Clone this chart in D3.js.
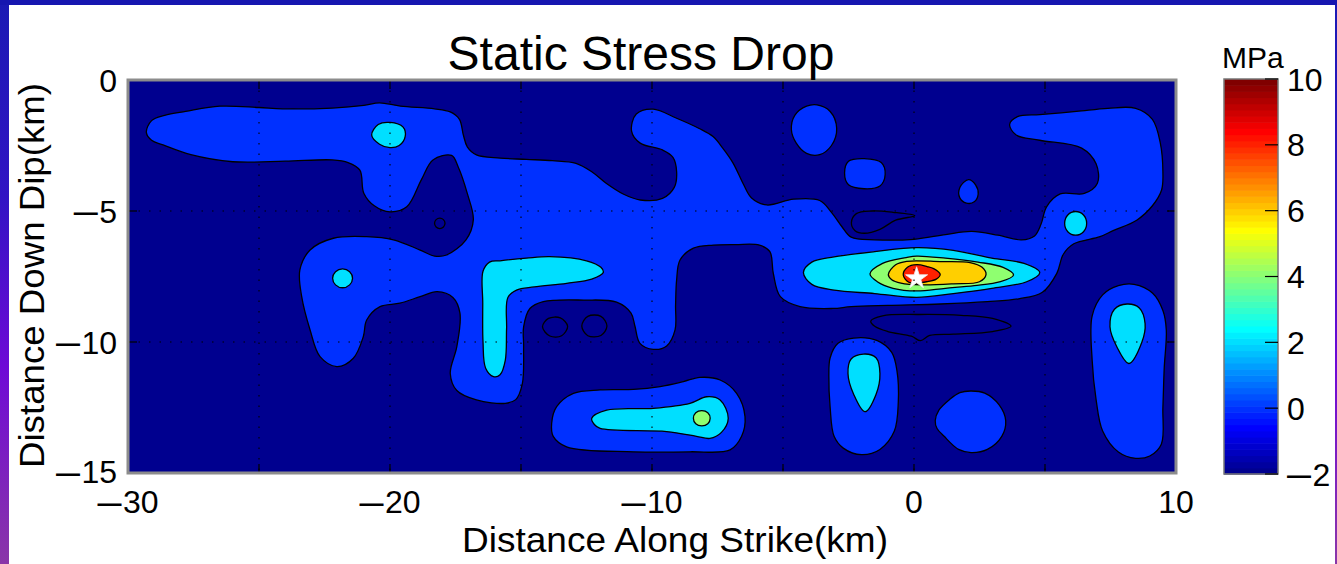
<!DOCTYPE html>
<html><head><meta charset="utf-8">
<script src="https://cdn.jsdelivr.net/npm/d3@7"></script>
<style>html,body{margin:0;padding:0;background:#fff;}svg{display:block;}</style>
</head><body>
<script>
// ---------- DATA (km) ----------
const contourLevels = [-2, 0, 2, 4, 6, 8];
const strikeTicks = [-30, -25, -20, -15, -10, -5, 0, 5, 10];
const strikeTickLabels = ["−30", "", "−20", "", "−10", "", "0", "", "10"];
const dipTicks = [0, -5, -10, -15];
const dipTickLabels = ["0", "−5", "−10", "−15"];
const colorbarTicks = [-2, 0, 2, 4, 6, 8, 10];
const colorbarTickLabels = ["−2", "0", "2", "4", "6", "8", "10"];
const hypocenter = [0.1, -7.57];

// level 0 MPa contours (blue regions)
const level0Rings = [
  [[-29.3,-2.0],[-29.1,-1.55],[-28.6,-1.35],[-27.8,-1.2],[-26.5,-1.0],[-25.0,-1.05],[-24.1,-1.1],[-22.2,-1.07],[-21.0,-0.97],[-20.4,-0.87],[-19.6,-1.0],[-18.3,-1.1],[-17.7,-1.22],[-17.35,-1.5],[-17.2,-2.1],[-17.05,-2.55],[-16.7,-2.86],[-15.8,-2.98],[-14.8,-3.03],[-13.8,-3.08],[-12.9,-3.18],[-12.3,-3.5],[-11.75,-3.94],[-11.1,-4.35],[-10.45,-4.58],[-9.6,-4.52],[-9.15,-4.1],[-9.06,-3.5],[-9.2,-2.95],[-9.6,-2.67],[-10.45,-2.41],[-10.78,-1.95],[-10.6,-1.3],[-9.96,-1.11],[-9.06,-1.46],[-8.2,-1.85],[-7.67,-2.16],[-7.3,-2.6],[-6.9,-3.18],[-6.5,-4.0],[-6.2,-4.5],[-5.62,-4.77],[-4.6,-4.55],[-3.6,-4.6],[-3.15,-5.05],[-2.75,-5.6],[-2.4,-6.0],[-1.5,-6.1],[0,-6.08],[1.2,-5.9],[2.2,-5.78],[3.2,-5.92],[4.1,-6.1],[4.6,-5.95],[4.85,-5.5],[5.06,-4.84],[5.58,-4.35],[6.5,-4.33],[7.0,-3.94],[6.95,-3.2],[6.4,-2.6],[4.8,-2.3],[3.9,-2.1],[3.65,-1.7],[3.95,-1.4],[4.8,-1.32],[6.2,-1.2],[7.4,-1.08],[8.46,-1.08],[9.1,-1.5],[9.4,-2.4],[9.5,-3.5],[9.45,-4.2],[9.1,-4.8],[8.5,-5.35],[7.6,-5.75],[7.1,-5.98],[6.1,-6.25],[5.7,-6.65],[5.45,-7.38],[4.9,-8.1],[4.0,-8.35],[2.8,-8.46],[1.0,-8.55],[-1.0,-8.6],[-2.4,-8.65],[-3.1,-8.72],[-4.35,-8.65],[-5.1,-8.27],[-5.37,-7.38],[-5.5,-6.55],[-5.9,-6.3],[-6.8,-6.28],[-7.66,-6.3],[-8.42,-6.42],[-8.93,-6.87],[-9.06,-7.63],[-9.1,-8.6],[-9.12,-9.54],[-9.44,-10.15],[-9.95,-10.28],[-10.46,-10.05],[-10.65,-9.4],[-10.8,-8.9],[-11.35,-8.48],[-12.6,-8.4],[-14.15,-8.46],[-14.66,-8.72],[-14.9,-9.42],[-14.9,-10.18],[-14.95,-11.6],[-15.2,-12.2],[-15.6,-12.34],[-16.7,-12.21],[-17.45,-11.85],[-17.7,-11.2],[-17.45,-10.18],[-17.33,-8.9],[-17.6,-8.3],[-18.2,-8.08],[-18.85,-8.27],[-19.62,-8.52],[-20.38,-8.65],[-20.89,-9.16],[-21.02,-9.8],[-21.4,-10.62],[-22.03,-10.94],[-22.67,-10.56],[-23.05,-9.54],[-23.37,-8.27],[-23.44,-7.25],[-23.05,-6.49],[-22.16,-6.04],[-20.89,-5.98],[-19.87,-6.1],[-18.85,-6.49],[-18.3,-6.72],[-17.84,-6.68],[-17.1,-6.1],[-16.82,-5.34],[-17.05,-4.33],[-17.4,-3.31],[-17.65,-2.88],[-18.36,-3.05],[-18.8,-3.8],[-19.36,-4.84],[-20.0,-5.03],[-20.6,-4.8],[-21.0,-4.32],[-21.15,-3.44],[-21.6,-3.15],[-22.2,-3.05],[-24.0,-3.1],[-26.0,-3.12],[-27.6,-2.85],[-28.66,-2.48],[-29.1,-2.3]],
  [[-4.68,-1.9],[-4.55,-1.35],[-4.1,-1.0],[-3.7,-0.95],[-3.2,-1.2],[-2.95,-1.85],[-3.15,-2.5],[-3.6,-2.85],[-4.1,-2.8],[-4.5,-2.4]],
  [[-2.65,-3.55],[-2.5,-3.1],[-1.9,-3.0],[-1.25,-3.15],[-1.1,-3.6],[-1.3,-4.05],[-1.9,-4.15],[-2.5,-4.0]],
  [[2.08,-3.8],[2.35,-4.0],[2.45,-4.35],[2.3,-4.65],[2.0,-4.7],[1.75,-4.5],[1.75,-4.1]],
  [[-13.83,-13.1],[-13.64,-12.47],[-13.0,-11.96],[-11.98,-11.83],[-10.71,-11.81],[-9.69,-11.7],[-8.8,-11.51],[-8.17,-11.35],[-7.4,-11.45],[-6.77,-11.96],[-6.45,-12.85],[-6.58,-13.6],[-7.02,-14.12],[-8.55,-14.19],[-10.71,-14.19],[-13.26,-14.0],[-13.77,-13.6]],
  [[-3.2,-10.6],[-2.9,-10.05],[-2.3,-9.85],[-1.4,-9.95],[-0.85,-10.4],[-0.65,-11.1],[-0.6,-12.3],[-0.75,-13.4],[-1.3,-14.1],[-2.0,-14.3],[-2.7,-14.05],[-3.05,-13.6],[-3.2,-12.5],[-3.25,-11.3]],
  [[0.81,-13.0],[0.95,-12.6],[1.35,-12.2],[1.75,-11.93],[2.18,-11.87],[2.7,-11.95],[3.25,-12.4],[3.5,-13.0],[3.35,-13.6],[2.8,-14.1],[2.18,-14.22],[1.7,-14.1],[1.15,-13.6],[0.88,-13.3]],
  [[6.8,-9.0],[7.2,-8.2],[7.8,-7.85],[8.4,-7.8],[9.11,-8.14],[9.5,-8.8],[9.63,-9.54],[9.55,-11.0],[9.5,-12.5],[9.44,-13.9],[9.0,-14.35],[8.46,-14.44],[7.8,-14.2],[7.2,-13.4],[6.95,-12.2],[6.8,-10.7]]
];
// level 2 MPa contours (cyan)
const level2Rings = [
  [[-20.7,-2.1],[-20.45,-1.7],[-20.0,-1.62],[-19.5,-1.8],[-19.42,-2.15],[-19.65,-2.5],[-20.0,-2.58],[-20.4,-2.45]],
  [[-22.19,-7.57],[-22.08,-7.32],[-21.81,-7.21],[-21.54,-7.32],[-21.43,-7.57],[-21.54,-7.82],[-21.81,-7.93],[-22.08,-7.82]],
  [[-16.45,-7.3],[-16.2,-6.95],[-15.8,-6.9],[-14.8,-6.8],[-13.9,-6.74],[-12.5,-6.9],[-11.95,-7.15],[-11.86,-7.35],[-12.3,-7.6],[-13.26,-7.76],[-14.5,-7.9],[-15.17,-8.02],[-15.5,-8.3],[-15.55,-9.5],[-15.6,-10.7],[-15.8,-11.25],[-16.05,-11.32],[-16.35,-11.0],[-16.45,-10.0],[-16.46,-8.5]],
  [[-12.3,-12.91],[-11.73,-12.6],[-9.95,-12.53],[-8.55,-12.34],[-7.91,-12.09],[-7.4,-12.21],[-7.09,-12.91],[-7.35,-13.45],[-7.79,-13.68],[-8.3,-13.6],[-9.44,-13.42],[-11.98,-13.3],[-12.2,-13.15]],
  [[-1.93,-10.46],[-1.45,-10.6],[-1.3,-11.2],[-1.45,-12.0],[-1.87,-12.66],[-2.3,-12.0],[-2.52,-11.2],[-2.4,-10.65]],
  [[8.13,-8.55],[8.6,-8.7],[8.82,-9.3],[8.7,-10.0],[8.2,-10.82],[7.75,-10.2],[7.48,-9.42],[7.65,-8.75]],
  [[5.75,-5.47],[5.87,-5.15],[6.17,-5.02],[6.47,-5.15],[6.59,-5.47],[6.47,-5.79],[6.17,-5.92],[5.87,-5.79]],
  [[-4.22,-7.35],[-3.9,-6.95],[-3.05,-6.75],[-1.5,-6.55],[0.1,-6.4],[1.5,-6.5],[2.97,-6.8],[4.2,-7.0],[4.8,-7.35],[4.3,-7.7],[2.97,-7.95],[1.5,-8.15],[0.1,-8.3],[-1.5,-8.15],[-3.05,-8.02],[-3.9,-7.8]]
];
// level 4 MPa contours (green)
const level4Rings = [
  [[-8.42,-12.91],[-8.33,-12.7],[-8.1,-12.62],[-7.87,-12.7],[-7.78,-12.91],[-7.87,-13.12],[-8.1,-13.2],[-8.33,-13.12]],
  [[-1.68,-7.4],[-1.2,-7.0],[-0.3,-6.78],[0.1,-6.72],[1.2,-6.8],[2.44,-6.95],[3.4,-7.15],[3.8,-7.44],[3.3,-7.7],[2.3,-7.85],[1.2,-7.95],[0.1,-8.05],[-0.8,-7.95],[-1.4,-7.7]]
];
// level 6 MPa contour (orange)
const level6Rings = [
  [[-0.98,-7.42],[-0.7,-7.05],[-0.28,-6.92],[1.0,-6.93],[2.14,-6.97],[2.6,-7.15],[2.75,-7.42],[2.5,-7.7],[1.5,-7.78],[0.3,-7.82],[-0.5,-7.75],[-0.85,-7.62]]
];
// level 8 MPa contour (red)
const level8Rings = [
  [[-0.41,-7.44],[-0.25,-7.15],[0.1,-7.05],[0.5,-7.12],[0.75,-7.2],[1.0,-7.42],[0.85,-7.6],[0.48,-7.7],[0.1,-7.75],[-0.2,-7.72]]
];
// level -2 MPa contours (closed lines inside the lowest band)
const levelMinus2Rings = [
  [[-18.3,-5.47],[-18.24,-5.33],[-18.1,-5.27],[-17.96,-5.33],[-17.9,-5.47],[-17.96,-5.61],[-18.1,-5.67],[-18.24,-5.61]],
  [[-14.18,-9.42],[-13.95,-9.1],[-13.5,-9.08],[-13.22,-9.4],[-13.45,-9.76],[-13.9,-9.77]],
  [[-12.68,-9.39],[-12.45,-9.02],[-11.95,-9.02],[-11.72,-9.39],[-11.95,-9.75],[-12.45,-9.76]],
  [[-2.39,-5.45],[-2.2,-5.1],[-1.6,-5.0],[-0.8,-5.05],[0.03,-5.18],[-0.7,-5.35],[-1.3,-5.7],[-1.9,-5.85],[-2.25,-5.75]],
  [[-1.65,-9.2],[-1.2,-9.0],[0.2,-8.95],[1.8,-8.98],[3.0,-9.1],[3.7,-9.4],[3.0,-9.6],[1.5,-9.7],[0.6,-9.75],[0.25,-9.95],[-0.1,-9.78],[-1.0,-9.6],[-1.5,-9.4]]
];

// ---------- MATLAB jet(64) colour map ----------
function jet64(i) { // i = 1..64
  const u = [];
  for (let k = 1; k <= 16; k++) u.push(k / 16);
  for (let k = 0; k < 15; k++) u.push(1);
  for (let k = 16; k >= 1; k--) u.push(k / 16);
  const at = j => (j >= 1 && j <= 47) ? u[j - 1] : 0;
  const r = at(i - 24), g = at(i - 8), b = at(i + 8);
  return d3.rgb(r * 255, g * 255, b * 255).formatHex();
}
const cmin = -2, cmax = 10;
const colorOf = v => jet64(Math.min(64, Math.floor((v - cmin) / (cmax - cmin) * 64) + 1));

// ---------- LAYOUT ----------
const W = 1337, H = 564;
const svg = d3.select("body").append("svg").attr("width", W).attr("height", H);
const FONT = "'Liberation Sans', Arial, Helvetica, sans-serif";

const defs = svg.append("defs");
const lg = defs.append("linearGradient").attr("id", "frameGrad").attr("x1", 0).attr("y1", 0).attr("x2", 0).attr("y2", 1);
[["0%", "#1a1ab4"], ["35%", "#3214c4"], ["65%", "#6e0ad6"], ["100%", "#8a36a8"]].forEach(s =>
  lg.append("stop").attr("offset", s[0]).attr("stop-color", s[1]));

svg.append("rect").attr("width", W).attr("height", H).attr("fill", "#fff");
svg.append("rect").attr("x", 0).attr("y", 0).attr("width", 9).attr("height", H).attr("fill", "url(#frameGrad)");
svg.append("rect").attr("x", W - 2).attr("y", 0).attr("width", 2).attr("height", H).attr("fill", "url(#frameGrad)");
svg.append("rect").attr("x", 0).attr("y", 0).attr("width", W).attr("height", 5).attr("fill", "#1616b0");

const x = d3.scaleLinear().domain([-30, 10]).range([128, 1176]);
const y = d3.scaleLinear().domain([0, -15]).range([80, 473]);

defs.append("clipPath").attr("id", "plotClip").append("rect")
  .attr("x", x(-30)).attr("y", y(0)).attr("width", x(10) - x(-30)).attr("height", y(-15) - y(0));

const plot = svg.append("g").attr("clip-path", "url(#plotClip)");
plot.append("rect").attr("x", x(-30)).attr("y", y(0)).attr("width", x(10) - x(-30)).attr("height", y(-15) - y(0))
  .attr("fill", colorOf(contourLevels[0]));

const ringPath = d3.line().x(d => x(d[0])).y(d => y(d[1])).curve(d3.curveCatmullRomClosed.alpha(0.5));

function drawRings(rings, level) {
  plot.append("g").selectAll("path").data(rings).join("path")
    .attr("d", ringPath)
    .attr("fill", colorOf(level))
    .attr("stroke", "#000").attr("stroke-width", 1.3).attr("stroke-linejoin", "round");
}
drawRings(level0Rings, 0);
drawRings(levelMinus2Rings, -2);
drawRings(level2Rings, 2);
drawRings(level4Rings, 4);
drawRings(level6Rings, 6);
drawRings(level8Rings, 8);

// hypocentre star
plot.append("path").attr("d", d3.symbol().type(d3.symbolStar).size(150)())
  .attr("transform", `translate(${x(hypocenter[0])},${y(hypocenter[1])})`)
  .attr("fill", "#fff").attr("stroke", "#eee").attr("stroke-width", 0.8);

// dotted grid
const grid = svg.append("g").attr("stroke", "#000").attr("stroke-width", 1.1).attr("stroke-dasharray", "1.5,9");
grid.selectAll("line.gx").data(strikeTicks.filter(t => t > -30 && t < 10)).join("line")
  .attr("x1", d => x(d)).attr("x2", d => x(d)).attr("y1", y(0)).attr("y2", y(-15));
grid.selectAll("line.gy").data(dipTicks.filter(t => t < 0 && t > -15)).join("line")
  .attr("y1", d => y(d)).attr("y2", d => y(d)).attr("x1", x(-30)).attr("x2", x(10));

// ticks (inside, all four sides)
const tk = svg.append("g").attr("stroke", "#000").attr("stroke-width", 1.2);
strikeTicks.forEach(t => {
  tk.append("line").attr("x1", x(t)).attr("x2", x(t)).attr("y1", y(-15)).attr("y2", y(-15) - 9);
  tk.append("line").attr("x1", x(t)).attr("x2", x(t)).attr("y1", y(0)).attr("y2", y(0) + 9);
});
dipTicks.forEach(t => {
  tk.append("line").attr("y1", y(t)).attr("y2", y(t)).attr("x1", x(-30)).attr("x2", x(-30) + 9);
  tk.append("line").attr("y1", y(t)).attr("y2", y(t)).attr("x1", x(10)).attr("x2", x(10) - 9);
});

// axes box
svg.append("rect").attr("x", x(-30)).attr("y", y(0)).attr("width", x(10) - x(-30)).attr("height", y(-15) - y(0))
  .attr("fill", "none").attr("stroke", "#8c8c8c").attr("stroke-width", 3);

// label writer: MATLAB-style long minus sign
function writeLabel(sel, label) {
  if (label.startsWith("−")) {
    sel.append("tspan").attr("font-size", 24).attr("font-weight", "bold").attr("dy", -2.5).text("—");
    sel.append("tspan").attr("dy", 2.5).attr("dx", 1.5).text(label.slice(1));
  } else {
    sel.text(label);
  }
}

// tick labels
svg.append("g").selectAll("text").data(strikeTicks).join("text")
  .attr("x", d => x(d)).attr("y", 513).attr("text-anchor", "middle")
  .attr("font-family", FONT).attr("font-size", 32)
  .each(function (d, i) { writeLabel(d3.select(this), strikeTickLabels[i]); });
svg.append("g").selectAll("text").data(dipTicks).join("text")
  .attr("x", 117).attr("y", d => y(d) + (d === -15 ? 10 : 11.5)).attr("text-anchor", "end")
  .attr("font-family", FONT).attr("font-size", 32)
  .each(function (d, i) { writeLabel(d3.select(this), dipTickLabels[i]); });

// titles
svg.append("text").attr("x", 641).attr("y", 70).attr("text-anchor", "middle")
  .attr("font-family", FONT).attr("font-size", 48).text("Static Stress Drop");
svg.append("text").attr("x", 462).attr("y", 552)
  .attr("font-family", FONT).attr("font-size", 35).attr("textLength", 426).attr("lengthAdjust", "spacingAndGlyphs")
  .text("Distance Along Strike(km)");
svg.append("text").attr("transform", "translate(44,468) rotate(-90)")
  .attr("font-family", FONT).attr("font-size", 35).attr("textLength", 385).attr("lengthAdjust", "spacingAndGlyphs")
  .text("Distance Down Dip(km)");

// colorbar
const cb = d3.scaleLinear().domain([cmin, cmax]).range([474, 79]);
const cbX = 1224, cbW = 54;
const cbg = svg.append("g");
cbg.selectAll("rect").data(d3.range(1, 65)).join("rect")
  .attr("x", cbX).attr("width", cbW)
  .attr("y", i => cb(cmin + i * (cmax - cmin) / 64))
  .attr("height", (cb(cmin) - cb(cmax)) / 64 + 0.6)
  .attr("fill", i => jet64(i));
cbg.append("rect").attr("x", cbX).attr("y", cb(cmax)).attr("width", cbW).attr("height", cb(cmin) - cb(cmax))
  .attr("fill", "none").attr("stroke", "#777").attr("stroke-width", 1.5);
cbg.selectAll("line").data(colorbarTicks).join("line")
  .attr("x1", cbX + cbW).attr("x2", cbX + cbW - 13).attr("y1", d => cb(d)).attr("y2", d => cb(d))
  .attr("stroke", "#000").attr("stroke-width", 1.2);
cbg.selectAll("text").data(colorbarTicks).join("text")
  .attr("x", 1287).attr("y", d => cb(d) + 11.5)
  .attr("font-family", FONT).attr("font-size", 32)
  .each(function (d, i) { writeLabel(d3.select(this), colorbarTickLabels[i]); });
svg.append("text").attr("x", 1222).attr("y", 68).attr("font-family", FONT).attr("font-size", 30).text("MPa");
</script>
</body></html>
